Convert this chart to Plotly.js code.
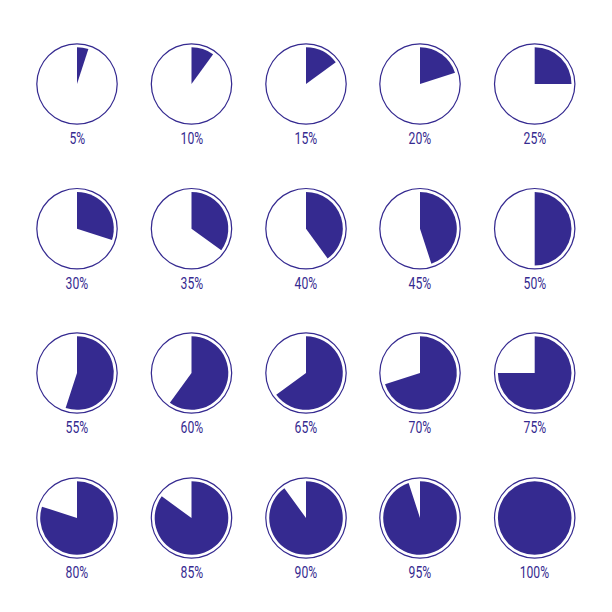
<!DOCTYPE html>
<html><head><meta charset="utf-8">
<script src="https://cdn.plot.ly/plotly-3.0.1.min.js"></script>
<style>html,body{margin:0;padding:0;background:#fff}</style></head>
<body><div id="chart" style="width:612px;height:612px"></div>
<script>
const percentValues = [5,10,15,20,25,30,35,40,45,50,55,60,65,70,75,80,85,90,95,100];
const percentLabels = percentValues.map(v => v + '%');
const S = 612, COLOR = '#352a90';
const colX = [77,191.5,306,420,534.7], rowY = [84,228.7,373,518];
const ringR = 40.8, pieR = 36.8, labelDy = 54.3;
const traces = [], annotations = [];
percentValues.forEach((v,i) => {
  const cx = colX[i%5], cy = rowY[Math.floor(i/5)];
  const dom = r => ({x:[(cx-r)/S,(cx+r)/S], y:[1-(cy+r)/S,1-(cy-r)/S]});
  traces.push({type:'pie', values:[1], domain:dom(ringR), hole:0.97, sort:false,
    marker:{colors:[COLOR], line:{width:0}}, textinfo:'none', hoverinfo:'skip', showlegend:false});
  traces.push({type:'pie', values:[v,100-v], domain:dom(pieR), sort:false, direction:'clockwise', rotation:0,
    marker:{colors:[COLOR,'rgba(0,0,0,0)'], line:{width:0}}, textinfo:'none', showlegend:false});
  annotations.push({text:percentLabels[i], xref:'paper', yref:'paper', x:cx/S, y:1-(cy+labelDy)/S,
    showarrow:false, xanchor:'center', yanchor:'middle',
    font:{family:'Roboto,sans-serif', size:16, color:COLOR}});
});
Plotly.newPlot('chart', traces, {width:S, height:S, margin:{l:0,r:0,t:0,b:0},
  paper_bgcolor:'#fff', annotations:annotations}, {displayModeBar:false, staticPlot:true}).then(() => {
  document.querySelectorAll('#chart .annotation-text').forEach(t => {
    const w = t.getComputedTextLength();
    t.setAttribute('textLength', (w*0.76).toFixed(1));
    t.setAttribute('lengthAdjust', 'spacingAndGlyphs');
  });
});
</script></body></html>
